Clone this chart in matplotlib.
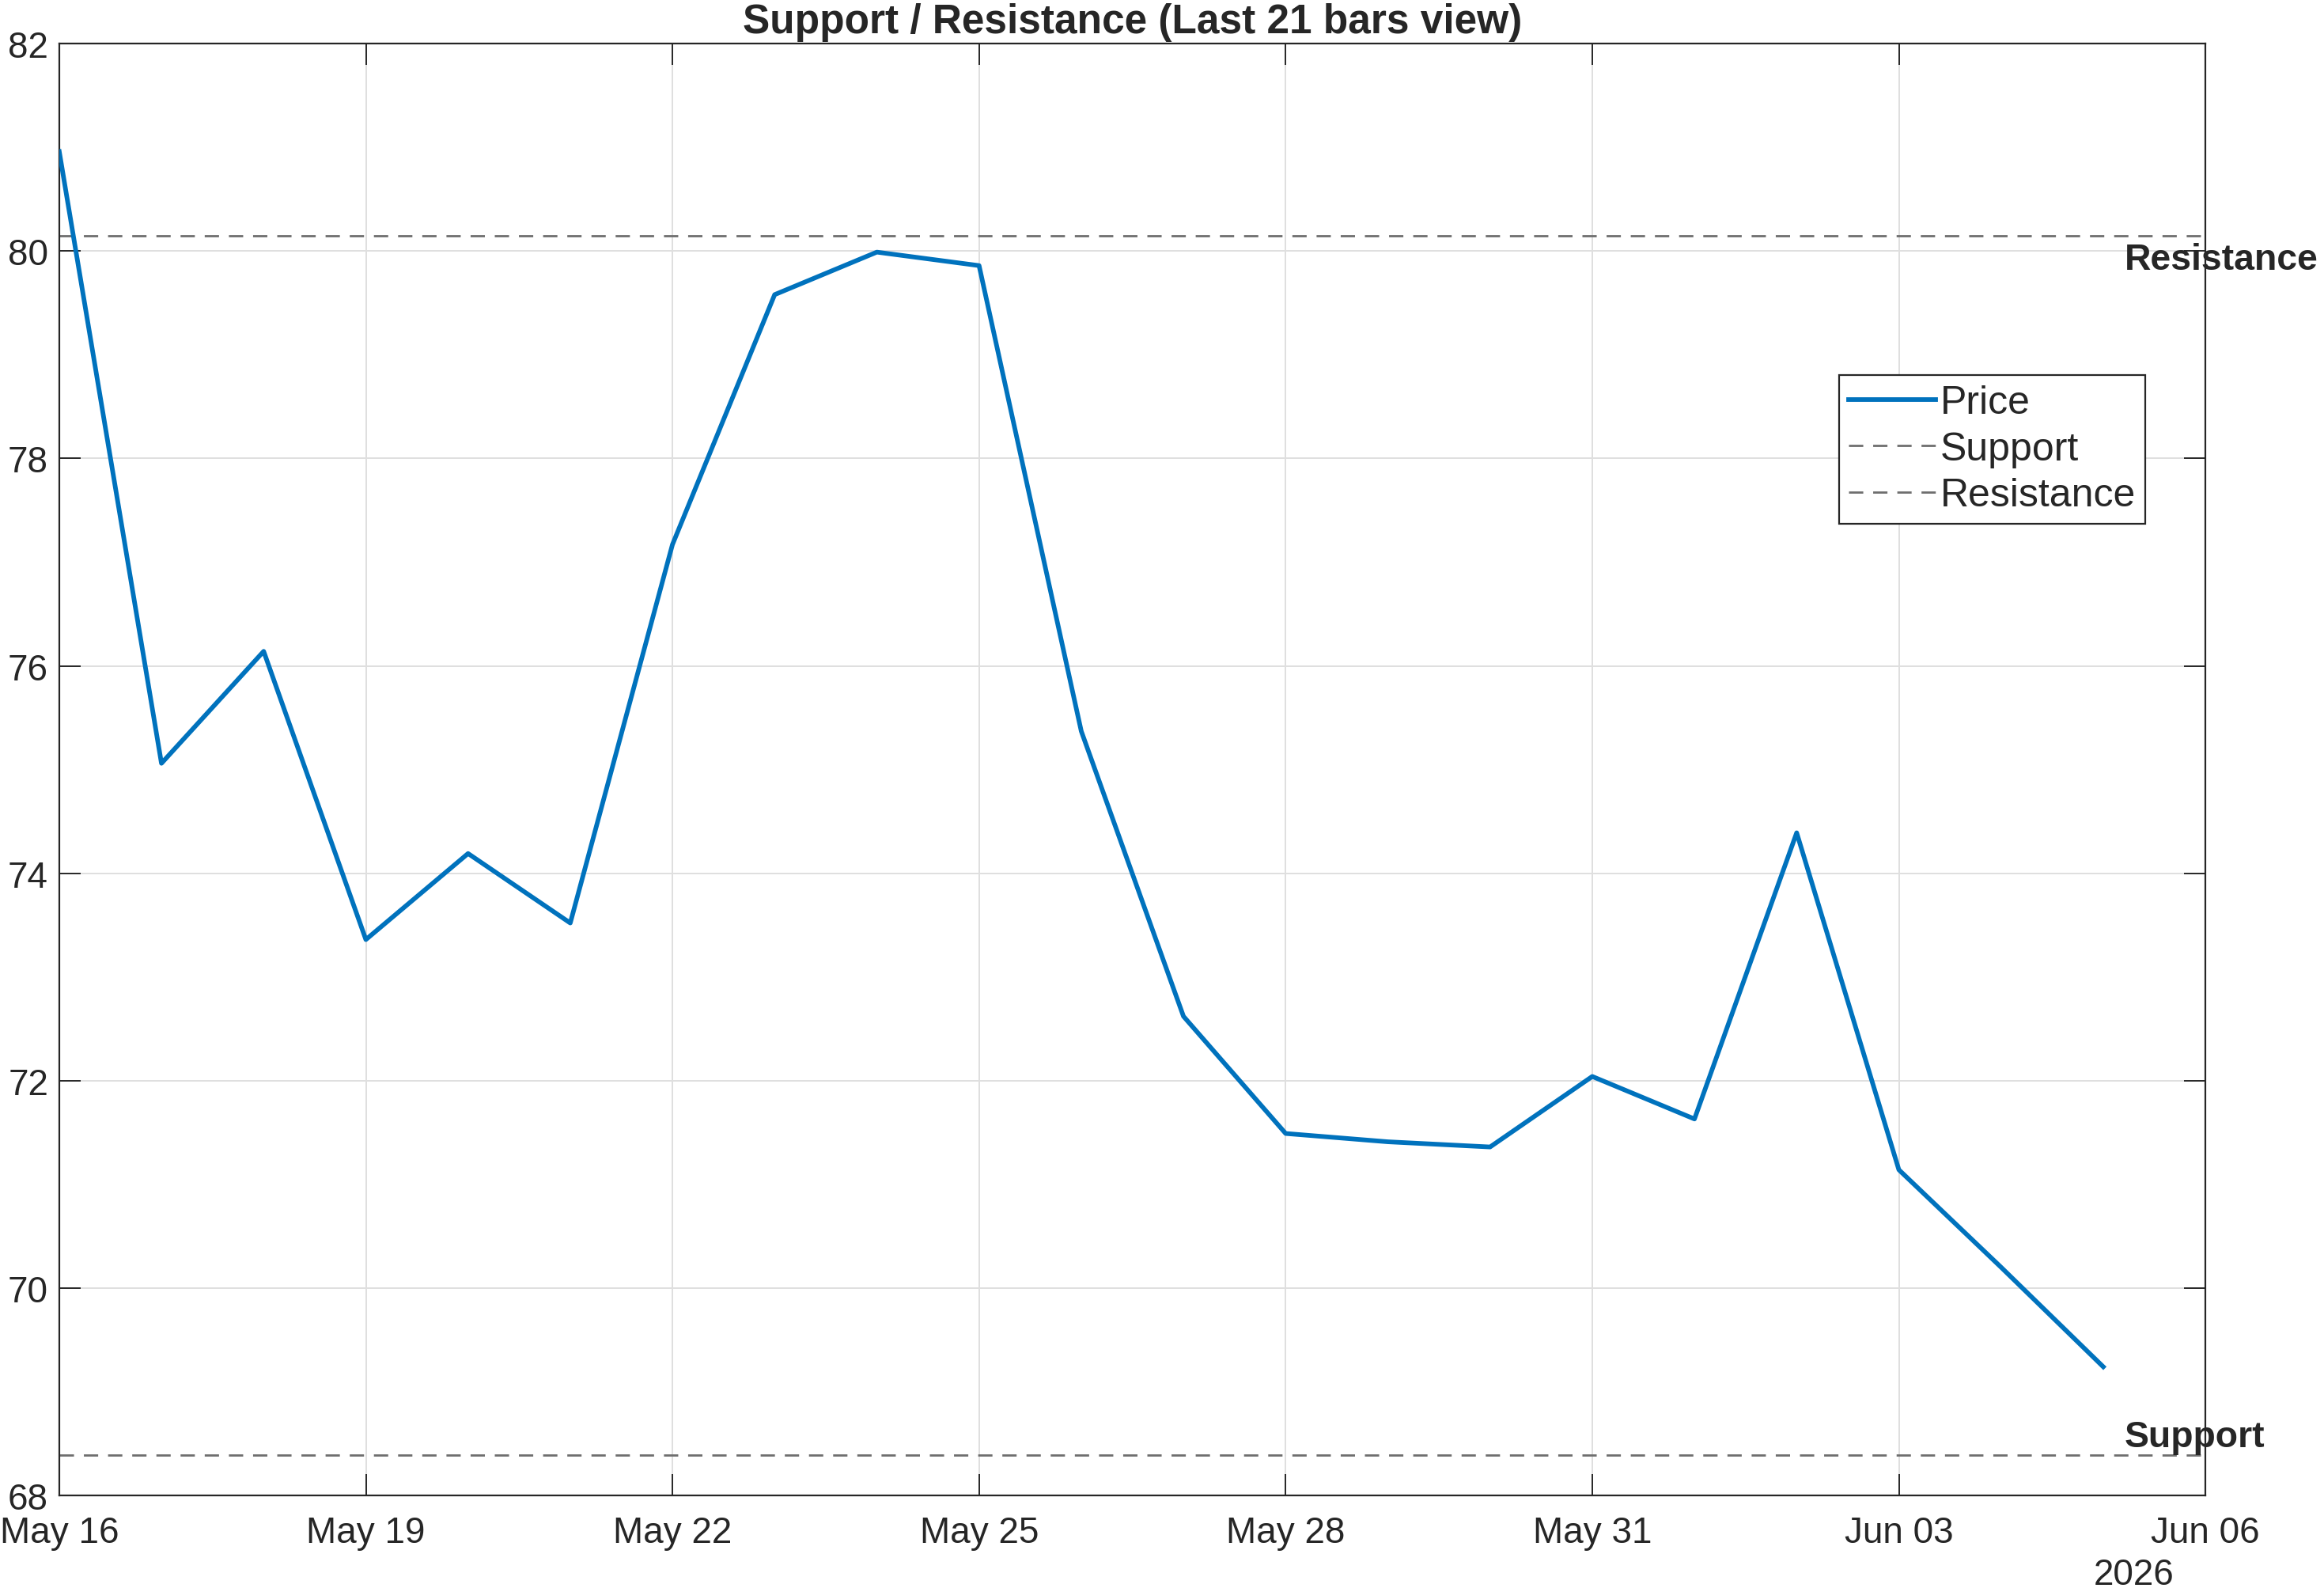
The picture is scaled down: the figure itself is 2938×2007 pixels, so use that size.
from matplotlib import pyplot as plt
from matplotlib import dates as mdates
import numpy as np
import pandas as pd

plt.rcParams["font.family"] = ["Liberation Sans", "DejaVu Sans"]

TEXT_COLOR = "#262626"
PRICE_COLOR = "#0072BD"
LEVEL_COLOR = "#6e6e6e"

DATES = pd.date_range("2026-05-16", periods=21, freq="D")
PRICE = [80.96, 75.06, 76.14, 73.36, 74.19, 73.52, 77.17, 79.58, 79.99, 79.86,
         75.37, 72.62, 71.49, 71.41, 71.36, 72.04, 71.63, 74.39, 71.14, 70.20,
         69.24]
SUPPORT = 68.39
RESISTANCE = 80.15
X_TICKS = pd.date_range("2026-05-16", "2026-06-06", freq="3D")
Y_TICKS = [68, 70, 72, 74, 76, 78, 80, 82]

fig = plt.figure(figsize=(14.69, 10.04), dpi=200)
ax = fig.add_axes([0.0255, 0.0583, 0.9235, 0.9137])

ax.plot(DATES, PRICE, color=PRICE_COLOR, lw=2.1, label="Price", zorder=3)
ax.axhline(SUPPORT, color=LEVEL_COLOR, lw=1.0, ls=(0, (6.5, 4.5)), label="Support")
ax.axhline(RESISTANCE, color=LEVEL_COLOR, lw=1.0, ls=(0, (6.5, 4.5)), label="Resistance")

label_x = DATES[-1] + pd.Timedelta(hours=5)
ax.text(label_x, RESISTANCE - 0.06, "Resistance", fontsize=16.7, fontweight="bold",
        color=TEXT_COLOR, ha="left", va="top", clip_on=False)
ax.text(label_x, SUPPORT + 0.01, "Support", fontsize=16.7, fontweight="bold",
        color=TEXT_COLOR, ha="left", va="bottom", clip_on=False)

ax.set_xlim(X_TICKS[0], X_TICKS[-1])
ax.set_ylim(68, 82)
ax.set_xticks(X_TICKS)
ax.xaxis.set_major_formatter(mdates.DateFormatter("%b %d"))
ax.set_yticks(Y_TICKS)

ax.grid(True, color="#dfdfdf", lw=0.7)
ax.set_axisbelow(True)
for s in ax.spines.values():
    s.set_color(TEXT_COLOR)
    s.set_linewidth(0.8)
ax.tick_params(direction="in", top=True, right=True, length=9.7, width=0.7,
               color=TEXT_COLOR, labelcolor=TEXT_COLOR, labelsize=16.5)
ax.tick_params(axis="x", pad=9)
ax.tick_params(axis="y", pad=5)

ax.set_title("Support / Resistance (Last 21 bars view)", fontsize=18.5,
             fontweight="bold", color=TEXT_COLOR, pad=5)

leg = ax.legend(loc="upper right", bbox_to_anchor=(0.972, 0.772), borderaxespad=0,
                fontsize=18, frameon=True, fancybox=False, framealpha=1,
                edgecolor=TEXT_COLOR, borderpad=0.25, labelspacing=0.25,
                handlelength=2.2, handletextpad=0.1)
leg.get_frame().set_linewidth(0.8)
for t in leg.get_texts():
    t.set_color(TEXT_COLOR)

fig.text(2698 / 2938, 5 / 2008, "2026", fontsize=16.5, color=TEXT_COLOR,
         ha="center", va="baseline")

fig.savefig("out.png", dpi=200)
